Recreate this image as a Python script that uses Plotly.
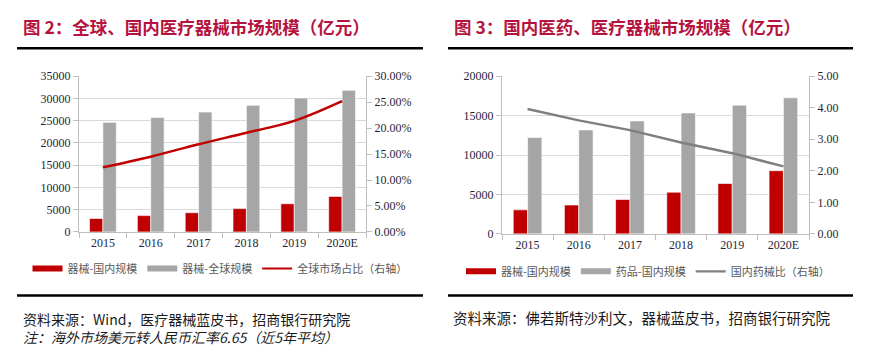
import plotly.graph_objects as go

# ---- data ----
years = ["2015", "2016", "2017", "2018", "2019", "2020E"]
device_domestic = [3020, 3670, 4320, 5250, 6340, 7990]
device_global = [24630, 25710, 26940, 28450, 30100, 31830]
global_share = [0.1246, 0.1450, 0.1690, 0.1910, 0.2140, 0.2520]

drug_domestic = [12220, 13190, 14330, 15350, 16330, 17260]
device_domestic2 = [3050, 3665, 4360, 5290, 6390, 8020]
drug_device_ratio = [3.96, 3.60, 3.29, 2.90, 2.56, 2.14]

RED = "#C00000"
GRAY = "#A6A6A6"
LGRAY = "#7F7F7F"
TITLE_C = "#B5123E"
TICK_FONT = dict(family="Liberation Serif, Times New Roman, serif", size=12, color="#1F1F3A")
CJK = "Noto Sans CJK SC"

W, H = 869, 362
def px(x): return x / W
def py(y): return 1 - y / H

fig = go.Figure()

# left chart
fig.add_trace(go.Bar(x=years, y=device_domestic, marker=dict(color=RED, line=dict(width=0.6, color="#ffffff")),
                     xaxis="x", yaxis="y", showlegend=False, name="器械-国内规模"))
fig.add_trace(go.Bar(x=years, y=device_global, marker=dict(color=GRAY, line=dict(width=0.6, color="#ffffff")),
                     xaxis="x", yaxis="y", showlegend=False, name="器械-全球规模"))
fig.add_trace(go.Scatter(x=years, y=global_share, mode="lines", line=dict(color=RED, width=2.5, shape="spline"),
                         xaxis="x", yaxis="y2", showlegend=False, name="全球市场占比（右轴）"))

# right chart
fig.add_trace(go.Bar(x=years, y=device_domestic2, marker=dict(color=RED, line=dict(width=0.6, color="#ffffff")),
                     xaxis="x2", yaxis="y3", showlegend=False, name="器械-国内规模"))
fig.add_trace(go.Bar(x=years, y=drug_domestic, marker=dict(color=GRAY, line=dict(width=0.6, color="#ffffff")),
                     xaxis="x2", yaxis="y3", showlegend=False, name="药品-国内规模"))
fig.add_trace(go.Scatter(x=years, y=drug_device_ratio, mode="lines", line=dict(color=LGRAY, width=2.5),
                         xaxis="x2", yaxis="y4", showlegend=False, name="国内药械比（右轴）"))

# legend proxies
def leg(name, color, width, legend):
    fig.add_trace(go.Scatter(x=[None], y=[None], mode="lines", line=dict(color=color, width=width),
                             name=name, legend=legend, xaxis="x", yaxis="y"))

leg("器械-国内规模", RED, 6, "legend")
leg("器械-全球规模", GRAY, 6, "legend")
leg("全球市场占比（右轴）", RED, 2.2, "legend")
leg("器械-国内规模", RED, 6, "legend2")
leg("药品-国内规模", GRAY, 6, "legend2")
leg("国内药械比（右轴）", LGRAY, 2.2, "legend2")

xcommon = dict(showgrid=False, showline=True, linecolor="#BFBFBF", linewidth=1, ticks="outside",
               tickson="boundaries", ticklen=5, tickcolor="#BFBFBF", tickfont=TICK_FONT, fixedrange=True)
ycommon = dict(showgrid=True, gridcolor="#D9D9D9", gridwidth=1, showline=True, linecolor="#BFBFBF",
               ticks="outside", ticklen=5, tickcolor="#BFBFBF", tickfont=TICK_FONT, zeroline=False)

fig.update_layout(
    width=W, height=H,
    margin=dict(l=0, r=0, t=0, b=0),
    paper_bgcolor="white", plot_bgcolor="white",
    barmode="group", bargap=0.44, bargroupgap=0,
    xaxis=dict(domain=[px(79), px(366)], anchor="y", **xcommon),
    yaxis=dict(domain=[py(234), py(72)], anchor="x", range=[0, 35000], dtick=5000, tickformat="d", **ycommon),
    yaxis2=dict(overlaying="y", side="right", anchor="x", range=[0, 0.30], dtick=0.05, tickformat=".2%",
                showgrid=False, showline=True, linecolor="#BFBFBF", ticks="outside", ticklen=5,
                tickcolor="#BFBFBF", tickfont=TICK_FONT, zeroline=False),
    xaxis2=dict(domain=[px(502), px(809)], anchor="y3", **xcommon),
    yaxis3=dict(domain=[py(236), py(72)], anchor="x2", range=[0, 20000], dtick=5000, tickformat="d", **ycommon),
    yaxis4=dict(overlaying="y3", side="right", anchor="x2", range=[0, 5], dtick=1, tickformat=".2f",
                showgrid=False, showline=True, linecolor="#BFBFBF", ticks="outside", ticklen=5,
                tickcolor="#BFBFBF", tickfont=TICK_FONT, zeroline=False),
    legend=dict(orientation="h", x=px(220), xanchor="center", y=py(272), yanchor="middle",
                font=dict(family=CJK, size=11, color="#595959"), bgcolor="rgba(0,0,0,0)",
                itemwidth=30, tracegroupgap=0),
    legend2=dict(orientation="h", x=px(648), xanchor="center", y=py(275), yanchor="middle",
                 font=dict(family=CJK, size=11, color="#595959"), bgcolor="rgba(0,0,0,0)",
                 itemwidth=30, tracegroupgap=0),
    showlegend=True,
)

# titles
fig.add_annotation(text="<b>图 2：全球、国内医疗器械市场规模（亿元）</b>", x=px(21), y=py(20), xref="paper", yref="paper",
                   xanchor="left", yanchor="middle", showarrow=False,
                   font=dict(family=CJK, size=17.5, color=TITLE_C))
fig.add_annotation(text="<b>图 3：国内医药、医疗器械市场规模（亿元）</b>", x=px(452), y=py(20), xref="paper", yref="paper",
                   xanchor="left", yanchor="middle", showarrow=False,
                   font=dict(family=CJK, size=17.5, color=TITLE_C))

# sources
fig.add_annotation(text="资料来源：Wind，医疗器械蓝皮书，招商银行研究院<br><i>注：海外市场美元转人民币汇率6.65（近5年平均）</i>",
                   x=px(21), y=py(334), xref="paper", yref="paper", align="left",
                   xanchor="left", yanchor="middle", showarrow=False,
                   font=dict(family=CJK, size=14, color="#1a1a1a"))
fig.add_annotation(text="资料来源：佛若斯特沙利文，器械蓝皮书，招商银行研究院", x=px(451), y=py(323), xref="paper", yref="paper",
                   xanchor="left", yanchor="middle", showarrow=False,
                   font=dict(family=CJK, size=14.5, color="#1a1a1a"))

# separator lines
for x0, x1 in [(17, 423), (448, 853)]:
    for yy in (43, 300):
        fig.add_shape(type="line", xref="paper", yref="paper", x0=px(x0), x1=px(x1), y0=py(yy), y1=py(yy),
                      line=dict(color="black", width=2.5))

fig.write_html("out.html", config={"displayModeBar": False},
               post_script="document.body.style.margin='0px';")
